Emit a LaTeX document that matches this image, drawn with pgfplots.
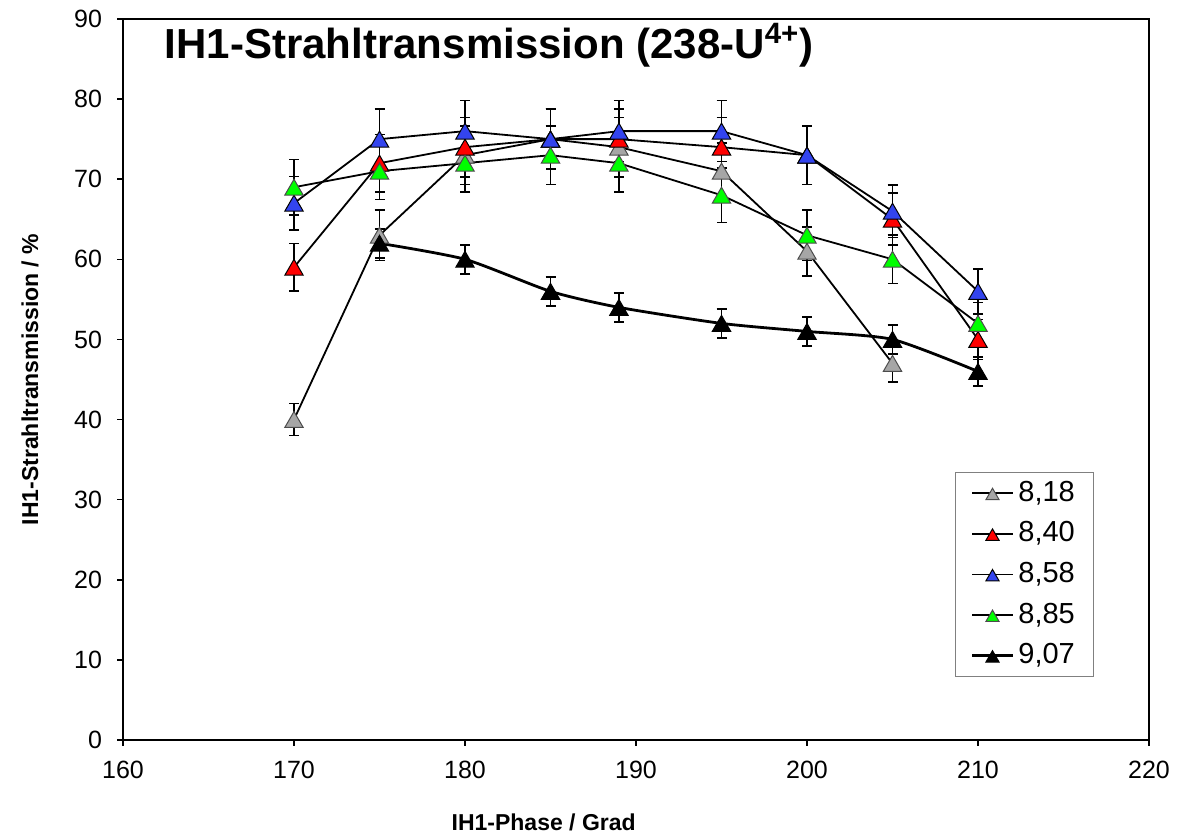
\documentclass[border=0pt]{standalone}
\usepackage{fontspec}
\setmainfont{Liberation Sans}
\usepackage{pgfplots}
\pgfplotsset{compat=1.18}

\definecolor{sgray}{RGB}{166,166,166}
\definecolor{sred}{RGB}{255,0,0}
\definecolor{sblue}{RGB}{51,68,238}
\definecolor{sgreen}{RGB}{0,255,0}
\definecolor{lframe}{RGB}{128,128,128}

\begin{document}
\begin{tikzpicture}
\begin{axis}[
  name=ax,
  scale only axis,
  width=513pt, height=360.5pt,
  xmin=160, xmax=220, ymin=0, ymax=90,
  xtick={160,170,...,220}, ytick={0,10,...,90},
  axis line style={line width=0.75pt},
  tick style={line width=0.75pt, black},
  tick align=outside, major tick length=3pt,
  xtick pos=bottom, ytick pos=left,
  ticklabel style={font=\fontsize{12.5}{14}\selectfont},
  xticklabel style={yshift=-4pt},
  yticklabel style={xshift=-4pt},
  /pgf/number format/assume math mode=true,
  xlabel={IH1-Phase / Grad},
  ylabel={IH1-Strahltransmission / \%},
  every axis x label/.style={at={(axis description cs:0.41,-0.115)}, anchor=center,
    font=\bfseries\fontsize{11.5}{14}\selectfont},
  every axis y label/.style={at={(axis description cs:-0.0906,0.5)}, rotate=90, anchor=center,
    font=\bfseries\fontsize{11.5}{14}\selectfont},
  legend style={at={(0.811,0.372)}, anchor=north west, draw=lframe, line width=0.5pt,
    font=\fontsize{14.5}{16}\selectfont, inner xsep=7.5pt, inner ysep=2pt,
    nodes={inner sep=2pt, text height=10.5pt, text depth=2.5pt}, row sep=3.3pt},
  legend cell align=left,
  legend image code/.code={\draw[mark repeat=2,mark phase=2,#1,mark size=3.8pt] plot coordinates {(0pt,0pt) (10.25pt,0pt) (20.5pt,0pt)};},
  every axis plot/.append style={line width=0.9pt, black, mark=triangle*, mark size=5.3pt},
  error bars/y dir=both, error bars/y explicit,
  error bars/error mark=-,
  error bars/error bar style={line width=0.8pt, black},
  error bars/error mark options={black, line width=0.8pt, mark size=2.5pt, rotate=90},
]

% 8,18
\addplot[mark options={fill=sgray, draw=gray!60!black, line width=0.5pt, yshift=-1.3pt}]
  coordinates {(170,40) +- (0,2.0) (175,63) +- (0,3.15) (180,73) +- (0,3.65) (185,75) +- (0,3.75)
               (189,74) +- (0,3.7) (195,71) +- (0,3.55) (200,61) +- (0,3.05) (205,47) +- (0,2.35)};
% 8,40
\addplot[mark options={fill=sred, draw=black, line width=0.5pt, yshift=-1.3pt}]
  coordinates {(170,59) +- (0,2.95) (175,72) +- (0,3.6) (180,74) +- (0,3.7) (185,75) +- (0,3.75)
               (189,75) +- (0,3.75) (195,74) +- (0,3.7) (200,73) +- (0,3.65) (205,65) +- (0,3.25)
               (210,50) +- (0,2.5)};
% 8,58
\addplot[mark options={fill=sblue, draw=black, line width=0.5pt, yshift=-1.3pt}]
  coordinates {(170,67) +- (0,3.35) (175,75) +- (0,3.75) (180,76) +- (0,3.8) (185,75) +- (0,3.75)
               (189,76) +- (0,3.8) (195,76) +- (0,3.8) (200,73) +- (0,3.65) (205,66) +- (0,3.3)
               (210,56) +- (0,2.8)};
% 8,85
\addplot[mark options={fill=sgreen, draw=black!70, line width=0.5pt, yshift=-1.3pt}]
  coordinates {(170,69) +- (0,3.45) (175,71) +- (0,3.55) (180,72) +- (0,3.6) (185,73) +- (0,3.65)
               (189,72) +- (0,3.6) (195,68) +- (0,3.4) (200,63) +- (0,3.15) (205,60) +- (0,3.0)
               (210,52) +- (0,2.6)};
% 9,07
\addplot[line width=1.4pt, smooth, tension=0.4, mark options={fill=black, draw=black, line width=0.5pt, yshift=-1.3pt}]
  coordinates {(175,62) +- (0,1.8) (180,60) +- (0,1.8) (185,56) +- (0,1.8) (189,54) +- (0,1.8)
               (195,52) +- (0,1.8) (200,51) +- (0,1.8) (205,50) +- (0,1.8) (210,46) +- (0,1.8)};

\legend{{8,18},{8,40},{8,58},{8,85},{9,07}}

\node[anchor=west, font=\bfseries\fontsize{21}{24}\selectfont] at (rel axis cs:0.034,0.964)
  {IH1-Strahltransmission (238-U\textsuperscript{4+})};
\end{axis}
\pgfresetboundingbox
\path[use as bounding box] ([shift={(-61.5pt,-49pt)}]ax.south west) rectangle ([shift={(26pt,9.5pt)}]ax.north east);
\end{tikzpicture}
\end{document}
